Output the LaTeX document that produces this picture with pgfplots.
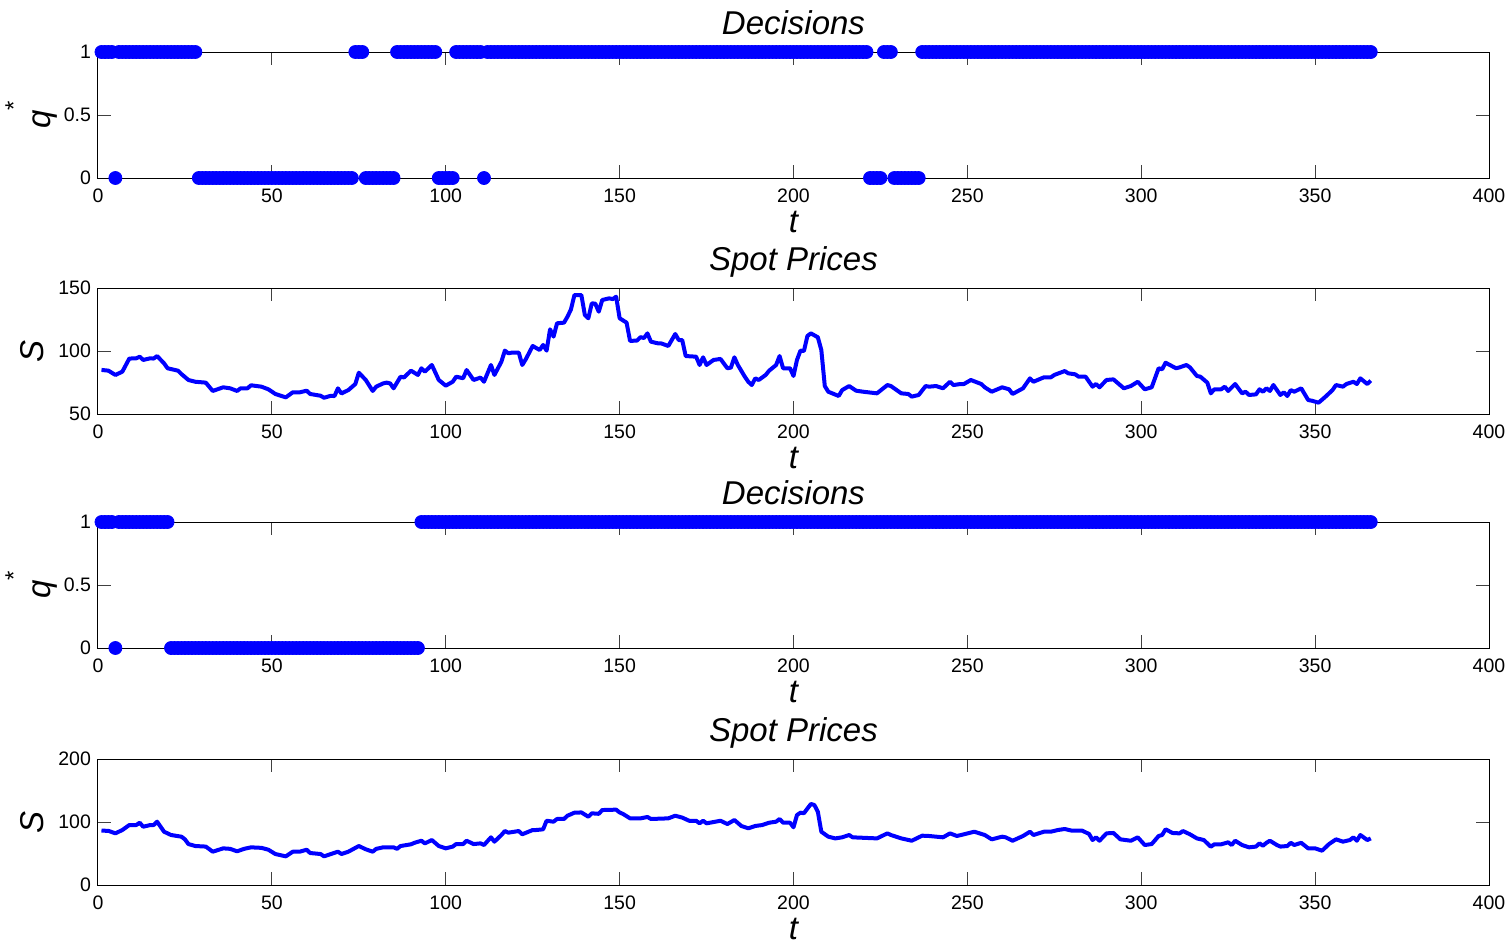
\documentclass[border=0pt]{standalone}
\usepackage{fontspec}
\setmainfont{Liberation Sans}
\usepackage{pgfplots}
\pgfplotsset{compat=1.18}
\pgfplotsset{
  base/.style={
    scale only axis, width=695.5pt, height=63pt,
    xmin=0, xmax=400, xtick={0,50,...,400},
    tick align=inside, major tick length=6.5pt,
    axis line style={black, line width=0.5pt},
    tick style={black!75, line width=0.5pt},
    ticklabel style={font=\fontsize{9.75}{11}\selectfont},
    /pgf/number format/assume math mode=true,
    xticklabel style={yshift=-2pt},
    title style={font=\fontsize{16.5}{19}\selectfont\itshape, at={(0.5,1)}, anchor=base, yshift=2.7pt},
    xlabel style={font=\fontsize{16.5}{19}\selectfont\itshape, at={(axis description cs:0.5,0)}, anchor=base, yshift=-27pt},
    xlabel={t},
  },
  dec/.style={base, ymin=0, ymax=1, ytick={0,0.5,1}, clip=false, title={Decisions},
    ylabel={\textit{q}\raisebox{0.85em}{\fontsize{12}{12}\selectfont *}},
    ylabel style={font=\fontsize{16.5}{19}\selectfont, at={(axis description cs:-0.0345,0.5)}, anchor=base}},
  spot/.style={base, title={Spot Prices}, ylabel={S},
    ylabel style={font=\fontsize{16.5}{19}\selectfont\itshape, at={(axis description cs:-0.0395,0.5)}, anchor=base}},
  decm/.style={only marks, mark=*, mark size=3.25pt, color=blue, mark options={fill=blue, draw=blue}},
  spl/.style={no markers, color=blue, line width=2pt, line join=round},
}
\begin{document}
\begin{tikzpicture}
\useasboundingbox (-49pt,26pt) rectangle (705.5pt,-445.5pt);
% ---------- Decisions 1
\begin{axis}[dec, at={(0,0)}, anchor=north west]
\addplot[decm] coordinates {
(1,1)(2,1)(3,1)(4,1)(5,0)(6,1)(7,1)(8,1)(9,1)(10,1)
(11,1)(12,1)(13,1)(14,1)(15,1)(16,1)(17,1)(18,1)(19,1)(20,1)
(21,1)(22,1)(23,1)(24,1)(25,1)(26,1)(27,1)(28,1)(29,0)(30,0)
(31,0)(32,0)(33,0)(34,0)(35,0)(36,0)(37,0)(38,0)(39,0)(40,0)
(41,0)(42,0)(43,0)(44,0)(45,0)(46,0)(47,0)(48,0)(49,0)(50,0)
(51,0)(52,0)(53,0)(54,0)(55,0)(56,0)(57,0)(58,0)(59,0)(60,0)
(61,0)(62,0)(63,0)(64,0)(65,0)(66,0)(67,0)(68,0)(69,0)(70,0)
(71,0)(72,0)(73,0)(74,1)(75,1)(76,1)(77,0)(78,0)(79,0)(80,0)
(81,0)(82,0)(83,0)(84,0)(85,0)(86,1)(87,1)(88,1)(89,1)(90,1)
(91,1)(92,1)(93,1)(94,1)(95,1)(96,1)(97,1)(98,0)(99,0)(100,0)
(101,0)(102,0)(103,1)(104,1)(105,1)(106,1)(107,1)(108,1)(109,1)(110,1)
(111,0)(112,1)(113,1)(114,1)(115,1)(116,1)(117,1)(118,1)(119,1)(120,1)
(121,1)(122,1)(123,1)(124,1)(125,1)(126,1)(127,1)(128,1)(129,1)(130,1)
(131,1)(132,1)(133,1)(134,1)(135,1)(136,1)(137,1)(138,1)(139,1)(140,1)
(141,1)(142,1)(143,1)(144,1)(145,1)(146,1)(147,1)(148,1)(149,1)(150,1)
(151,1)(152,1)(153,1)(154,1)(155,1)(156,1)(157,1)(158,1)(159,1)(160,1)
(161,1)(162,1)(163,1)(164,1)(165,1)(166,1)(167,1)(168,1)(169,1)(170,1)
(171,1)(172,1)(173,1)(174,1)(175,1)(176,1)(177,1)(178,1)(179,1)(180,1)
(181,1)(182,1)(183,1)(184,1)(185,1)(186,1)(187,1)(188,1)(189,1)(190,1)
(191,1)(192,1)(193,1)(194,1)(195,1)(196,1)(197,1)(198,1)(199,1)(200,1)
(201,1)(202,1)(203,1)(204,1)(205,1)(206,1)(207,1)(208,1)(209,1)(210,1)
(211,1)(212,1)(213,1)(214,1)(215,1)(216,1)(217,1)(218,1)(219,1)(220,1)
(221,1)(222,0)(223,0)(224,0)(225,0)(226,1)(227,1)(228,1)(229,0)(230,0)
(231,0)(232,0)(233,0)(234,0)(235,0)(236,0)(237,1)(238,1)(239,1)(240,1)
(241,1)(242,1)(243,1)(244,1)(245,1)(246,1)(247,1)(248,1)(249,1)(250,1)
(251,1)(252,1)(253,1)(254,1)(255,1)(256,1)(257,1)(258,1)(259,1)(260,1)
(261,1)(262,1)(263,1)(264,1)(265,1)(266,1)(267,1)(268,1)(269,1)(270,1)
(271,1)(272,1)(273,1)(274,1)(275,1)(276,1)(277,1)(278,1)(279,1)(280,1)
(281,1)(282,1)(283,1)(284,1)(285,1)(286,1)(287,1)(288,1)(289,1)(290,1)
(291,1)(292,1)(293,1)(294,1)(295,1)(296,1)(297,1)(298,1)(299,1)(300,1)
(301,1)(302,1)(303,1)(304,1)(305,1)(306,1)(307,1)(308,1)(309,1)(310,1)
(311,1)(312,1)(313,1)(314,1)(315,1)(316,1)(317,1)(318,1)(319,1)(320,1)
(321,1)(322,1)(323,1)(324,1)(325,1)(326,1)(327,1)(328,1)(329,1)(330,1)
(331,1)(332,1)(333,1)(334,1)(335,1)(336,1)(337,1)(338,1)(339,1)(340,1)
(341,1)(342,1)(343,1)(344,1)(345,1)(346,1)(347,1)(348,1)(349,1)(350,1)
(351,1)(352,1)(353,1)(354,1)(355,1)(356,1)(357,1)(358,1)(359,1)(360,1)
(361,1)(362,1)(363,1)(364,1)(365,1)(366,1)
};
\end{axis}
% ---------- Spot prices 1
\begin{axis}[spot, at={(0,-118pt)}, anchor=north west, ymin=50, ymax=150, ytick={50,100,150}]
\addplot[spl] coordinates {
(1,85)(3,84.4)(5,81)(7,83.6)(9,94)(11,94.2)(12,95.5)(13,92.9)(15,94.2)(16,94)(17,96)(19,90.2)(20,86.3)
(23,84.4)(24,81.7)(26,77)(28,75.6)(31,74.9)(33,68.3)(36,71.2)(38,70.4)(40,68.3)(41,70.4)(43,70.4)(44,72.8)
(47,71.7)(49,69.6)(51,65.9)(54,63.2)(56,67.2)(58,67.2)(60,68.5)(61,65.9)(64,64.5)(65,62.9)(67,64.5)(68,64.2)
(69,70.4)(70,66.3)(72,69)(74,73.8)(75,82.8)(77,77)(79,68.3)(80,71.7)(82,74.3)(83,74.9)(84,74.3)(85,70.4)
(87,79.6)(88,79)(90,84.4)(92,81)(93,86.3)(94,83.6)(96,88.9)(98,77)(100,72.5)(102,75.6)(103,79.6)(105,78.4)
(106,84.9)(108,77)(110,78.9)(111,75.6)(113,88.9)(114,81)(116,91.5)(117,100.3)(118,98.2)(119,98.7)(121,98.7)
(122,88.9)(123,93.4)(125,104)(127,100.8)(128,104.8)(129,100.3)(130,117.2)(131,111.4)(132,122)(134,122.5)
(135,127.2)(136,133)(137,144.4)(139,144.4)(140,128.6)(141,126)(142,137.8)(143,137.6)(144,131.2)(145,140.5)
(147,141.8)(148,141.2)(149,143.1)(150,126)(152,122.5)(153,108)(155,108.3)(156,111)(157,110.3)(158,114)
(159,107.4)(161,106.1)(162,106)(164,104)(166,113.5)(167,108.7)(168,108.7)(169,96)(172,95.5)(173,88.9)
(174,95)(175,88.9)(177,92.9)(179,93.7)(181,86.3)(182,86.8)(183,95)(184,88.9)(186,79.6)(187,75.6)(188,73)
(189,78.3)(190,77)(192,81)(193,84.4)(195,88.9)(196,96)(197,86.3)(199,86.3)(200,80.2)(201,92.9)(202,100.3)
(203,100)(204,111.9)(205,114)(207,110.9)(208,100.8)(209,72.2)(210,67.7)(213,64.3)(214,69)(216,72.2)
(218,68.5)(220,67.7)(224,66.4)(227,73)(228,72.2)(231,66.4)(233,65.9)(234,63.8)(236,65.1)(238,72.2)
(239,71.7)(241,72.2)(243,70.4)(245,75.6)(246,73)(248,73.8)(249,73.8)(251,77)(254,73.8)(255,71.2)(257,67.7)
(260,71.2)(262,69.6)(263,65.9)(266,70.4)(268,78.3)(269,75.6)(272,79.1)(274,79.1)(275,81)(278,84.1)
(279,82.3)(281,81.5)(282,79.6)(284,79.6)(286,71.7)(287,73.8)(288,71.2)(290,77)(292,77.5)(295,70.4)
(297,72.2)(299,75.6)(301,69.6)(303,71.2)(305,86.3)(306,85.5)(307,90.7)(310,86.3)(311,87)(313,88.9)
(314,87)(316,80.2)(317,79.6)(319,74.9)(320,66.4)(321,69.6)(323,69.6)(324,71.7)(325,68.3)(327,73.8)
(329,66.4)(330,67.7)(331,65.1)(333,65.6)(334,69.6)(335,67.7)(336,70.4)(337,68.3)(338,73)(340,65.1)
(341,67.2)(342,64.3)(343,69)(344,67.7)(346,70.4)(348,61.1)(349,60.6)(351,59)(353,63.8)(355,69)(356,73)
(358,71.7)(359,73.8)(361,75.6)(362,73.8)(363,78.3)(365,73.8)(366,76.5)
};
\end{axis}
% ---------- Decisions 2
\begin{axis}[dec, at={(0,-235pt)}, anchor=north west]
\addplot[decm] coordinates {
(1,1)(2,1)(3,1)(4,1)(5,0)(6,1)(7,1)(8,1)(9,1)(10,1)
(11,1)(12,1)(13,1)(14,1)(15,1)(16,1)(17,1)(18,1)(19,1)(20,1)
(21,0)(22,0)(23,0)(24,0)(25,0)(26,0)(27,0)(28,0)(29,0)(30,0)
(31,0)(32,0)(33,0)(34,0)(35,0)(36,0)(37,0)(38,0)(39,0)(40,0)
(41,0)(42,0)(43,0)(44,0)(45,0)(46,0)(47,0)(48,0)(49,0)(50,0)
(51,0)(52,0)(53,0)(54,0)(55,0)(56,0)(57,0)(58,0)(59,0)(60,0)
(61,0)(62,0)(63,0)(64,0)(65,0)(66,0)(67,0)(68,0)(69,0)(70,0)
(71,0)(72,0)(73,0)(74,0)(75,0)(76,0)(77,0)(78,0)(79,0)(80,0)
(81,0)(82,0)(83,0)(84,0)(85,0)(86,0)(87,0)(88,0)(89,0)(90,0)
(91,0)(92,0)(93,1)(94,1)(95,1)(96,1)(97,1)(98,1)(99,1)(100,1)
(101,1)(102,1)(103,1)(104,1)(105,1)(106,1)(107,1)(108,1)(109,1)(110,1)
(111,1)(112,1)(113,1)(114,1)(115,1)(116,1)(117,1)(118,1)(119,1)(120,1)
(121,1)(122,1)(123,1)(124,1)(125,1)(126,1)(127,1)(128,1)(129,1)(130,1)
(131,1)(132,1)(133,1)(134,1)(135,1)(136,1)(137,1)(138,1)(139,1)(140,1)
(141,1)(142,1)(143,1)(144,1)(145,1)(146,1)(147,1)(148,1)(149,1)(150,1)
(151,1)(152,1)(153,1)(154,1)(155,1)(156,1)(157,1)(158,1)(159,1)(160,1)
(161,1)(162,1)(163,1)(164,1)(165,1)(166,1)(167,1)(168,1)(169,1)(170,1)
(171,1)(172,1)(173,1)(174,1)(175,1)(176,1)(177,1)(178,1)(179,1)(180,1)
(181,1)(182,1)(183,1)(184,1)(185,1)(186,1)(187,1)(188,1)(189,1)(190,1)
(191,1)(192,1)(193,1)(194,1)(195,1)(196,1)(197,1)(198,1)(199,1)(200,1)
(201,1)(202,1)(203,1)(204,1)(205,1)(206,1)(207,1)(208,1)(209,1)(210,1)
(211,1)(212,1)(213,1)(214,1)(215,1)(216,1)(217,1)(218,1)(219,1)(220,1)
(221,1)(222,1)(223,1)(224,1)(225,1)(226,1)(227,1)(228,1)(229,1)(230,1)
(231,1)(232,1)(233,1)(234,1)(235,1)(236,1)(237,1)(238,1)(239,1)(240,1)
(241,1)(242,1)(243,1)(244,1)(245,1)(246,1)(247,1)(248,1)(249,1)(250,1)
(251,1)(252,1)(253,1)(254,1)(255,1)(256,1)(257,1)(258,1)(259,1)(260,1)
(261,1)(262,1)(263,1)(264,1)(265,1)(266,1)(267,1)(268,1)(269,1)(270,1)
(271,1)(272,1)(273,1)(274,1)(275,1)(276,1)(277,1)(278,1)(279,1)(280,1)
(281,1)(282,1)(283,1)(284,1)(285,1)(286,1)(287,1)(288,1)(289,1)(290,1)
(291,1)(292,1)(293,1)(294,1)(295,1)(296,1)(297,1)(298,1)(299,1)(300,1)
(301,1)(302,1)(303,1)(304,1)(305,1)(306,1)(307,1)(308,1)(309,1)(310,1)
(311,1)(312,1)(313,1)(314,1)(315,1)(316,1)(317,1)(318,1)(319,1)(320,1)
(321,1)(322,1)(323,1)(324,1)(325,1)(326,1)(327,1)(328,1)(329,1)(330,1)
(331,1)(332,1)(333,1)(334,1)(335,1)(336,1)(337,1)(338,1)(339,1)(340,1)
(341,1)(342,1)(343,1)(344,1)(345,1)(346,1)(347,1)(348,1)(349,1)(350,1)
(351,1)(352,1)(353,1)(354,1)(355,1)(356,1)(357,1)(358,1)(359,1)(360,1)
(361,1)(362,1)(363,1)(364,1)(365,1)(366,1)
};
\end{axis}
% ---------- Spot prices 2
\begin{axis}[spot, at={(0,-353.5pt)}, anchor=north west, ymin=0, ymax=200, ytick={0,100,200}]
\addplot[spl] coordinates {
(1,86.3)(3,86)(5,82)(7,87.3)(9,95.2)(11,95.2)(12,98.9)(13,92.5)(15,95.2)(16,95.2)(17,100.5)(19,84.6)(21,79.4)
(24,76.7)(25,72.5)(26,65)(28,61.9)(31,61)(33,52.9)(36,58.2)(38,57.4)(40,53.5)(42,57.4)(44,59.8)(47,59)(49,56)
(51,49.2)(54,45.5)(56,52.9)(58,52.9)(60,56)(61,50.8)(64,49.2)(65,45.5)(67,49.2)(69,52.9)(70,49.2)(72,52.9)
(75,61.9)(77,56.7)(79,52.9)(80,57.4)(82,59.8)(85,59.8)(86,57.4)(87,61.9)(90,64.6)(91,67)(93,70.3)(94,66.1)
(96,71.4)(98,61.9)(100,58.2)(102,61)(103,65)(105,65)(106,70.3)(108,65)(110,66.1)(111,63.5)(113,75.7)(114,68.8)
(116,79.4)(117,85.7)(118,83.1)(121,85.7)(122,80.5)(125,87.3)(126,87.3)(128,88.4)(129,102)(131,100.5)
(132,104.8)(134,104.8)(135,110)(137,114.8)(139,115.2)(141,108.4)(142,113.8)(144,113)(145,119)(149,119.6)
(150,115.2)(151,112.7)(153,105.8)(156,105.8)(158,108)(159,104.8)(164,105.8)(166,110)(168,107)(170,102)
(172,102)(173,97.9)(174,102)(175,97.9)(179,102)(181,96.8)(183,103.2)(185,93.7)(187,90)(189,93.7)(191,95.2)
(193,98.9)(195,100.5)(196,104.8)(197,98.9)(199,98.9)(200,91.6)(201,111.1)(202,114.8)(203,114)(205,128.6)
(206,127)(207,116.3)(208,84.6)(210,76.7)(212,74)(214,75.7)(216,79.4)(217,75.7)(224,74)(227,82)(228,79.4)
(231,74)(234,70.3)(237,78.3)(239,77.8)(243,75.7)(245,82)(247,77.8)(252,84.6)(255,79.4)(257,72.5)(260,76.7)
(261,75.7)(263,70.3)(266,77.8)(268,84.6)(269,79.4)(272,84.6)(274,84.6)(276,87.3)(278,88.9)(280,86.3)
(283,86.3)(285,81)(286,71.4)(287,75.7)(288,70.3)(290,82)(292,82.6)(294,72.5)(297,70.3)(299,75.7)(301,63.5)
(303,65)(305,77.8)(306,79.4)(307,88.4)(309,82.6)(311,82)(312,85.7)(314,80.5)(316,74)(318,71.4)(320,60.8)
(321,64.6)(323,64.6)(325,67.8)(326,63.5)(327,70.3)(329,63.5)(331,59.8)(333,61)(334,66.1)(335,62.4)(336,67)
(337,70.3)(339,63.5)(340,61)(342,61.9)(343,67)(344,63.5)(346,67)(348,58.2)(350,58.2)(352,54.5)(354,65)
(356,72.5)(358,68.8)(360,71.4)(361,75.7)(362,70.3)(363,79.4)(365,71.4)(366,74)
};
\end{axis}
\end{tikzpicture}
\end{document}
